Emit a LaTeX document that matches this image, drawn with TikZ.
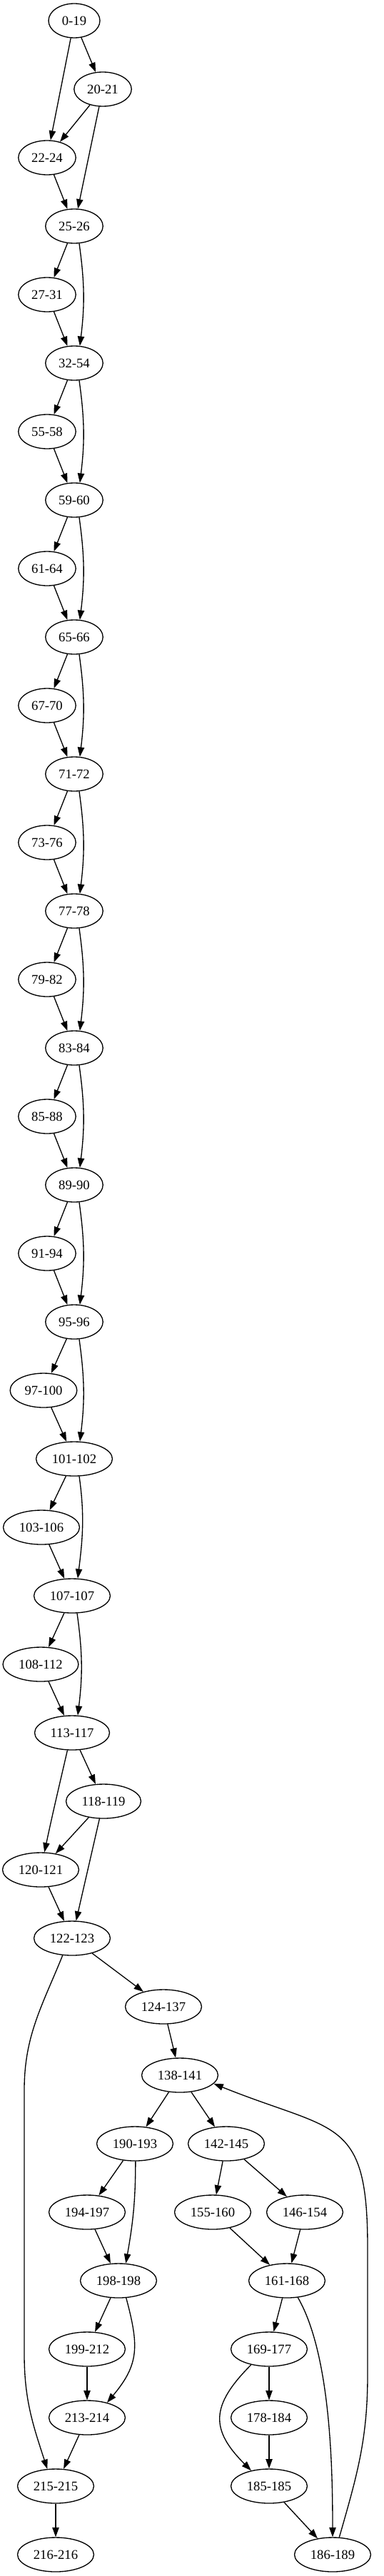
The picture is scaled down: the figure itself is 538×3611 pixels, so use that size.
\documentclass[tikz,border=0pt]{standalone}
\usepackage{fontspec}
\setmainfont{Liberation Serif}
\usetikzlibrary{shapes.geometric,arrows.meta}

\begin{document}
\begin{tikzpicture}[x=0.75pt,y=-0.75pt,
  block/.style={draw,ellipse,line width=1pt,minimum width=54pt,minimum height=36pt,
    inner xsep=5pt,inner ysep=2pt,font=\fontsize{14pt}{16pt}\selectfont},
  flow/.style={line width=1pt,-{Triangle[length=10pt,width=7pt]}}]
  \useasboundingbox (0,0) rectangle (538,3611);

  % Blocks
  \node[block] (b0) at (104,29) {0-19};
  \node[block] (b20) at (144,125) {20-21};
  \node[block] (b22) at (66,221) {22-24};
  \node[block] (b25) at (104,317) {25-26};
  \node[block] (b27) at (66,413) {27-31};
  \node[block] (b32) at (104,509) {32-54};
  \node[block] (b55) at (66,605) {55-58};
  \node[block] (b59) at (104,701) {59-60};
  \node[block] (b61) at (66,797) {61-64};
  \node[block] (b65) at (104,893) {65-66};
  \node[block] (b67) at (66,989) {67-70};
  \node[block] (b71) at (104,1085) {71-72};
  \node[block] (b73) at (66,1181) {73-76};
  \node[block] (b77) at (104,1277) {77-78};
  \node[block] (b79) at (66,1373) {79-82};
  \node[block] (b83) at (104,1469) {83-84};
  \node[block] (b85) at (66,1565) {85-88};
  \node[block] (b89) at (104,1661) {89-90};
  \node[block] (b91) at (66,1757) {91-94};
  \node[block] (b95) at (104,1853) {95-96};
  \node[block] (b97) at (61,1949) {97-100};
  \node[block] (b101) at (104,2045) {101-102};
  \node[block] (b103) at (58,2141) {103-106};
  \node[block] (b107) at (101,2237) {107-107};
  \node[block] (b108) at (57,2333) {108-112};
  \node[block] (b113) at (101,2429) {113-117};
  \node[block] (b118) at (145,2525) {118-119};
  \node[block] (b120) at (57,2621) {120-121};
  \node[block] (b122) at (101,2717) {122-123};
  \node[block] (b124) at (229,2813) {124-137};
  \node[block] (b138) at (252,2909) {138-141};
  \node[block] (b190) at (189,3005) {190-193};
  \node[block] (b142) at (317,3005) {142-145};
  \node[block] (b194) at (122,3101) {194-197};
  \node[block] (b155) at (298,3101) {155-160};
  \node[block] (b146) at (427,3101) {146-154};
  \node[block] (b198) at (166,3197) {198-198};
  \node[block] (b161) at (402,3197) {161-168};
  \node[block] (b199) at (122,3293) {199-212};
  \node[block] (b169) at (377,3293) {169-177};
  \node[block] (b213) at (122,3389) {213-214};
  \node[block] (b178) at (377,3389) {178-184};
  \node[block] (b215) at (78,3485) {215-215};
  \node[block] (b185) at (377,3485) {185-185};
  \node[block] (b216) at (78,3581) {216-216};
  \node[block] (b186) at (466,3581) {186-189};

  % Top
  \draw[flow] (b0) -- (b20);
  \draw[flow] (b0) -- (b22);
  \draw[flow] (b20) -- (b22);
  \draw[flow] (b20) -- (b25);
  \draw[flow] (b22) -- (b25);

  % Chain
  \draw[flow] (b25) -- (b27);
  \draw[flow] (b27) -- (b32);
  \draw[flow] (b25.-74) to[out=-82,in=83] (b32.72);
  \draw[flow] (b32) -- (b55);
  \draw[flow] (b55) -- (b59);
  \draw[flow] (b32.-74) to[out=-82,in=83] (b59.72);
  \draw[flow] (b59) -- (b61);
  \draw[flow] (b61) -- (b65);
  \draw[flow] (b59.-74) to[out=-82,in=83] (b65.72);
  \draw[flow] (b65) -- (b67);
  \draw[flow] (b67) -- (b71);
  \draw[flow] (b65.-74) to[out=-82,in=83] (b71.72);
  \draw[flow] (b71) -- (b73);
  \draw[flow] (b73) -- (b77);
  \draw[flow] (b71.-74) to[out=-82,in=83] (b77.72);
  \draw[flow] (b77) -- (b79);
  \draw[flow] (b79) -- (b83);
  \draw[flow] (b77.-74) to[out=-82,in=83] (b83.72);
  \draw[flow] (b83) -- (b85);
  \draw[flow] (b85) -- (b89);
  \draw[flow] (b83.-74) to[out=-82,in=83] (b89.72);
  \draw[flow] (b89) -- (b91);
  \draw[flow] (b91) -- (b95);
  \draw[flow] (b89.-74) to[out=-82,in=83] (b95.72);
  \draw[flow] (b95) -- (b97);
  \draw[flow] (b97) -- (b101);
  \draw[flow] (b95.-74) to[out=-82,in=83] (b101.72);
  \draw[flow] (b101) -- (b103);
  \draw[flow] (b103) -- (b107);
  \draw[flow] (b101.-74) to[out=-82,in=83] (b107.72);
  \draw[flow] (b107) -- (b108);
  \draw[flow] (b108) -- (b113);
  \draw[flow] (b107.-74) to[out=-82,in=83] (b113.72);

  % Bottom
  \draw[flow] (b113) -- (b118);
  \draw[flow] (b113.-105) to[out=-103,in=78] (b120.78);
  \draw[flow] (b118) -- (b120);
  \draw[flow] (b118) -- (b122);
  \draw[flow] (b120) -- (b122);
  \draw[flow] (b122) -- (b124);
  \draw[flow] (b122.-119) to[out=-112,in=90] (34,2930) -- (34,3300) to[out=-90,in=108] (b215.116);
  \draw[flow] (b124) -- (b138);
  \draw[flow] (b138) -- (b190);
  \draw[flow] (b138) -- (b142);
  \draw[flow] (b190) -- (b194);
  \draw[flow] (b190.-88) to[out=-90,in=80] (b198.67);
  \draw[flow] (b194) -- (b198);
  \draw[flow] (b142) -- (b155);
  \draw[flow] (b142) -- (b146);
  \draw[flow] (b155) -- (b161);
  \draw[flow] (b146) -- (b161);
  \draw[flow] (b198) -- (b199);
  \draw[flow] (b198.-66) to[out=-75,in=50,looseness=1.2] (b213.37);
  \draw[flow] (b199) -- (b213);
  \draw[flow] (b213) -- (b215);
  \draw[flow] (b215) -- (b216);
  \draw[flow] (b161) -- (b169);
  \draw[flow] (b161.-57) to[out=-60,in=90,looseness=0.7] (b186.90);
  \draw[flow] (b169) -- (b178);
  \draw[flow] (b169.-139) to[out=-135,in=135,looseness=1.4] (b185.139);
  \draw[flow] (b178) -- (b185);
  \draw[flow] (b185) -- (b186);
  \draw[flow] (b186.69) to[out=74,in=-90] (515,3330) -- (515,3150) to[out=90,in=-22,looseness=1.5] (b138.-14);
\end{tikzpicture}
\end{document}
